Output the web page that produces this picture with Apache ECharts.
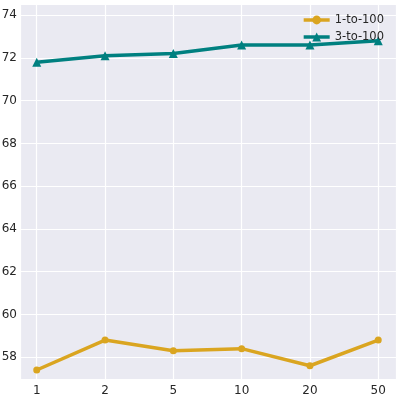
<!DOCTYPE html>
<html>
<head>
<meta charset="utf-8">
<script src="https://cdn.jsdelivr.net/npm/echarts@6/dist/echarts.min.js"></script>
<style>
  html, body { margin: 0; padding: 0; background: #fff; }
  #chart { width: 399px; height: 399px; }
</style>
</head>
<body>
<div id="chart"></div>
<script>
// 类目 (x 轴)
var categories = ["1", "2", "5", "10", "20", "50"];
// 两条折线
var oneTo100 = [57.4, 58.8, 58.3, 58.4, 57.6, 58.8];
var threeTo100 = [71.8, 72.1, 72.2, 72.6, 72.6, 72.8];

var chart = echarts.init(document.getElementById("chart"));

function toPoints(arr) {
  return arr.map(function (v, i) { return [i, v]; });
}

chart.setOption({
  animation: false,
  backgroundColor: "#ffffff",
  grid: {
    left: 20, right: 3, top: 4, bottom: 20,
    outerBoundsMode: "none",
    containLabel: false,
    show: true,
    backgroundColor: "#EAEAF2",
    borderWidth: 0
  },
  legend: {
    right: 10, top: 9,
    orient: "vertical",
    itemGap: 5,
    itemWidth: 26,
    itemHeight: 11,
    lineStyle: { width: 3.5 },
    textStyle: { fontFamily: "DejaVu Sans", fontSize: 11.5, color: "#262626" },
    data: ["1-to-100", "3-to-100"]
  },
  xAxis: {
    type: "value",
    min: -0.245,
    max: 5.26,
    splitNumber: 5,
    axisLine: { show: false },
    axisTick: { show: false },
    axisLabel: {
      fontFamily: "DejaVu Sans", fontSize: 12, color: "#262626", margin: 6,
      showMinLabel: false, showMaxLabel: false,
      formatter: function (v) {
        return Number.isInteger(v) ? categories[v] : "";
      }
    },
    splitLine: { show: true, lineStyle: { color: "#ffffff", width: 1.2 } }
  },
  yAxis: {
    type: "value",
    min: 56.98,
    max: 74.52,
    splitNumber: 9,
    axisLine: { show: false },
    axisTick: { show: false },
    axisLabel: {
      fontFamily: "DejaVu Sans", fontSize: 12, color: "#262626", margin: 3,
      showMinLabel: false, showMaxLabel: false,
      formatter: function (v) {
        return (Math.abs(v % 2) < 1e-6) ? String(v) : "";
      }
    },
    splitLine: { show: true, lineStyle: { color: "#ffffff", width: 1.2 } }
  },
  series: [
    {
      name: "1-to-100",
      type: "line",
      data: toPoints(oneTo100),
      symbol: "circle",
      symbolSize: 7,
      color: "#DAA520",
      lineStyle: { width: 3.5, color: "#DAA520" },
      itemStyle: { color: "#DAA520" }
    },
    {
      name: "3-to-100",
      type: "line",
      data: toPoints(threeTo100),
      symbol: "triangle",
      symbolSize: 9,
      color: "#008080",
      lineStyle: { width: 3.5, color: "#008080" },
      itemStyle: { color: "#008080" }
    }
  ]
});
</script>
</body>
</html>
